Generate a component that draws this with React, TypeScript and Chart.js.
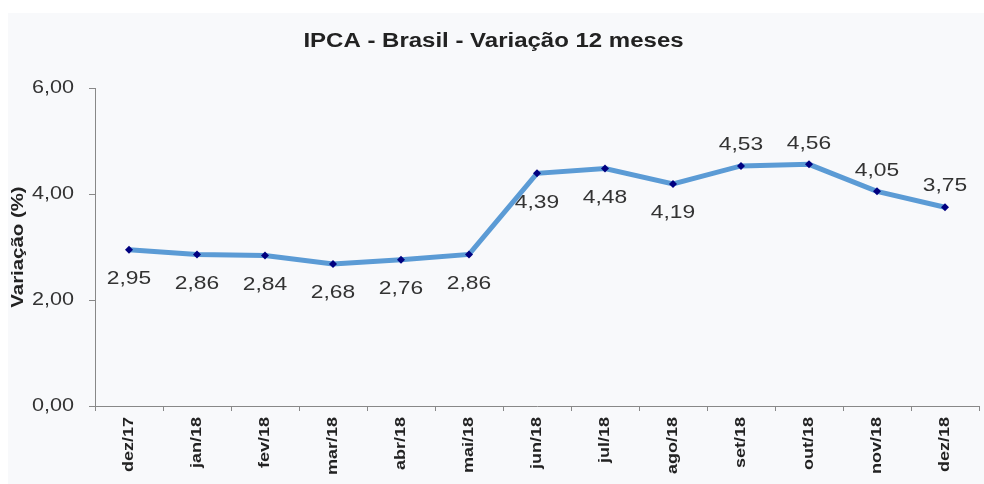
import React, { useEffect, useRef } from "react";
import { Chart, registerables } from "chart.js";

Chart.register(...registerables);

const categories = ["dez/17", "jan/18", "fev/18", "mar/18", "abr/18", "mai/18", "jun/18", "jul/18", "ago/18", "set/18", "out/18", "nov/18", "dez/18"];
const ipca12m = [2.95, 2.86, 2.84, 2.68, 2.76, 2.86, 4.39, 4.48, 4.19, 4.53, 4.56, 4.05, 3.75];
const labelAbove = [false, false, false, false, false, false, false, false, false, true, true, true, true];
const yTicks = [0, 2, 4, 6];

const FONT = "Arial, 'Liberation Sans', sans-serif";
const TEXT_STRETCH = 1.2;

const fmt = (v: number) => v.toFixed(2).replace(".", ",");

// widen glyphs horizontally (along the text direction), like the reference rendering
const stretchText = {
  id: "stretchText",
  beforeDraw(chart: any) {
    const ctx: any = chart.ctx;
    if (ctx.__stretched) return;
    const orig = ctx.fillText.bind(ctx);
    ctx.fillText = (t: string, x: number, y: number) => {
      ctx.save();
      ctx.translate(x, y);
      ctx.scale(TEXT_STRETCH, 1);
      orig(t, 0, 0);
      ctx.restore();
    };
    ctx.__stretched = true;
  },
};

const valueLabels = {
  id: "valueLabels",
  afterDatasetsDraw(chart: any) {
    const ctx = chart.ctx;
    const meta = chart.getDatasetMeta(0);
    ctx.save();
    ctx.font = `19px ${FONT}`;
    ctx.fillStyle = "#333333";
    ctx.textAlign = "center";
    ctx.textBaseline = "middle";
    meta.data.forEach((pt: any, i: number) => {
      const above = labelAbove[i];
      ctx.fillText(fmt(ipca12m[i]), pt.x, pt.y + (above ? -21 : 29));
    });
    ctx.restore();
  },
};

export default function App() {
  const ref = useRef<HTMLCanvasElement | null>(null);
  useEffect(() => {
    if (!ref.current) return;
    const chart = new Chart(ref.current, {
      type: "line",
      data: {
        labels: categories,
        datasets: [
          {
            data: ipca12m,
            borderColor: "#5b9bd5",
            borderWidth: 5,
            pointStyle: "rectRot",
            pointRadius: 4,
            pointBackgroundColor: "#000080",
            pointBorderColor: "#000080",
            pointBorderWidth: 0,
            tension: 0,
          },
        ],
      },
      options: {
        responsive: false,
        animation: false,
        layout: { padding: { left: 0, right: 5, top: 0, bottom: 0 } },
        plugins: {
          legend: { display: false },
          tooltip: { enabled: false },
          title: {
            display: true,
            text: "IPCA - Brasil - Variação 12 meses",
            color: "#222222",
            font: { family: FONT, size: 20, weight: "bold" },
            padding: { top: 16, bottom: 35 },
          },
        },
        scales: {
          x: {
            type: "category",
            offset: true,
            grid: { display: true, offset: true, drawOnChartArea: false, drawTicks: true, tickLength: 5, color: "#888888" },
            border: { display: true, color: "#888888", width: 1 },
            ticks: {
              minRotation: 90,
              maxRotation: 90,
              autoSkip: false,
              padding: 6,
              color: "#222222",
              font: { family: FONT, size: 15, weight: "bold" },
            },
            afterFit: (s: any) => {
              s.height = 78;
            },
          },
          y: {
            min: 0,
            max: 6,
            afterBuildTicks: (s: any) => {
              s.ticks = yTicks.map((v) => ({ value: v }));
            },
            grid: { display: true, drawOnChartArea: false, drawTicks: true, tickLength: 6, color: "#888888" },
            border: { display: true, color: "#888888", width: 1 },
            ticks: {
              padding: 15,
              color: "#333333",
              font: { family: FONT, size: 18 },
              callback: (v: any) => fmt(Number(v)),
            },
            title: {
              display: true,
              text: "Variação (%)",
              color: "#222222",
              font: { family: FONT, size: 17, weight: "bold" },
              padding: { top: 0, bottom: 0 },
            },
            afterFit: (s: any) => {
              s.width = 87;
            },
          },
        },
      },
      plugins: [stretchText, valueLabels],
    });
    return () => chart.destroy();
  }, []);
  return (
    <div style={{ position: "fixed", left: 8, top: 13, width: 976, height: 471, background: "#f8f9fb" }}>
      <canvas ref={ref} width={976} height={471} style={{ display: "block" }} />
    </div>
  );
}
